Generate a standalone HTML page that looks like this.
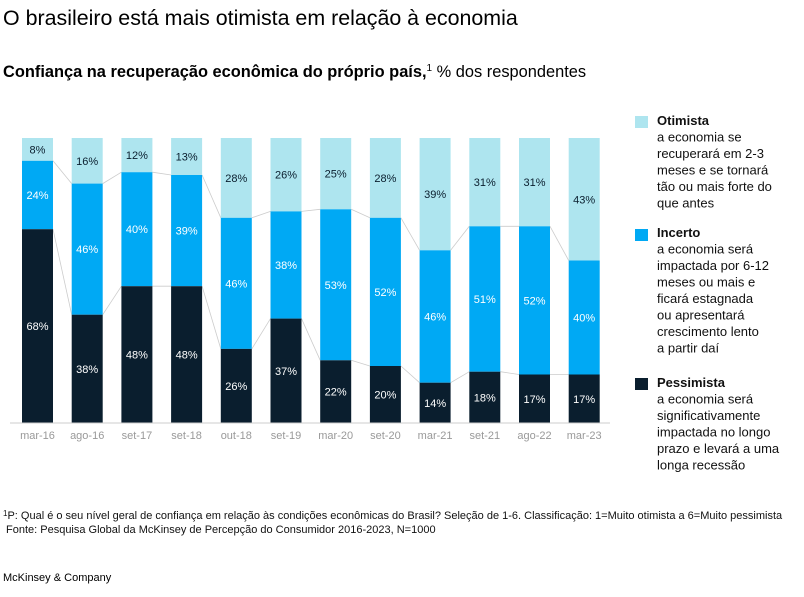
<!DOCTYPE html>
<html><head><meta charset="utf-8"><style>
body{margin:0;background:#fff;width:804px;height:592px;overflow:hidden;font-family:"Liberation Sans",sans-serif;}
</style></head><body>
<svg width="804" height="592" xmlns="http://www.w3.org/2000/svg" font-family="Liberation Sans, sans-serif">
<text x="3" y="25" font-size="21.4" fill="#000">O brasileiro está mais otimista em relação à economia</text>
<text x="3" y="77" font-size="16.4" fill="#000"><tspan font-weight="bold">Confiança na recuperação econômica do próprio país,</tspan><tspan font-size="10" dy="-6">1</tspan><tspan dy="6"> % dos respondentes</tspan></text>
<g stroke="#ccc" stroke-width="0.8" fill="none">
<path d="M53,229.2L71.7,314.7M53,160.8L71.7,183.6M102.7,314.7L121.4,286.2M102.7,183.6L121.4,172.2M152.4,286.2L171.1,286.2M152.4,172.2L171.1,175M202.1,286.2L220.8,348.9M202.1,175L220.8,217.8M251.8,348.9L270.5,318.6M251.8,217.8L270.5,211.4M301.5,318.6L320.2,360.3M301.5,211.4L320.2,209.3M351.2,360.3L369.9,366M351.2,209.3L369.9,217.8M400.9,366L419.6,382.7M400.9,217.8L419.6,250.3M450.6,382.7L469.3,371.7M450.6,250.3L469.3,226.3M500.3,371.7L519,374.5M500.3,226.3L519,226.3M550,374.5L568.7,374.5M550,226.3L568.7,260.5"/>
</g>
<g id="bars">
<rect x="22" y="138" width="31" height="22.8" fill="#aee5ef"/><rect x="22" y="160.8" width="31" height="68.4" fill="#00a9f4"/><rect x="22" y="229.2" width="31" height="193.8" fill="#0a1e2e"/>
<rect x="71.7" y="138" width="31" height="45.6" fill="#aee5ef"/><rect x="71.7" y="183.6" width="31" height="131.1" fill="#00a9f4"/><rect x="71.7" y="314.7" width="31" height="108.3" fill="#0a1e2e"/>
<rect x="121.4" y="138" width="31" height="34.2" fill="#aee5ef"/><rect x="121.4" y="172.2" width="31" height="114" fill="#00a9f4"/><rect x="121.4" y="286.2" width="31" height="136.8" fill="#0a1e2e"/>
<rect x="171.1" y="138" width="31" height="37" fill="#aee5ef"/><rect x="171.1" y="175" width="31" height="111.2" fill="#00a9f4"/><rect x="171.1" y="286.2" width="31" height="136.8" fill="#0a1e2e"/>
<rect x="220.8" y="138" width="31" height="79.8" fill="#aee5ef"/><rect x="220.8" y="217.8" width="31" height="131.1" fill="#00a9f4"/><rect x="220.8" y="348.9" width="31" height="74.1" fill="#0a1e2e"/>
<rect x="270.5" y="138" width="31" height="73.4" fill="#aee5ef"/><rect x="270.5" y="211.4" width="31" height="107.2" fill="#00a9f4"/><rect x="270.5" y="318.6" width="31" height="104.4" fill="#0a1e2e"/>
<rect x="320.2" y="138" width="31" height="71.3" fill="#aee5ef"/><rect x="320.2" y="209.3" width="31" height="151" fill="#00a9f4"/><rect x="320.2" y="360.3" width="31" height="62.7" fill="#0a1e2e"/>
<rect x="369.9" y="138" width="31" height="79.8" fill="#aee5ef"/><rect x="369.9" y="217.8" width="31" height="148.2" fill="#00a9f4"/><rect x="369.9" y="366" width="31" height="57" fill="#0a1e2e"/>
<rect x="419.6" y="138" width="31" height="112.3" fill="#aee5ef"/><rect x="419.6" y="250.3" width="31" height="132.4" fill="#00a9f4"/><rect x="419.6" y="382.7" width="31" height="40.3" fill="#0a1e2e"/>
<rect x="469.3" y="138" width="31" height="88.3" fill="#aee5ef"/><rect x="469.3" y="226.3" width="31" height="145.4" fill="#00a9f4"/><rect x="469.3" y="371.7" width="31" height="51.3" fill="#0a1e2e"/>
<rect x="519" y="138" width="31" height="88.3" fill="#aee5ef"/><rect x="519" y="226.3" width="31" height="148.2" fill="#00a9f4"/><rect x="519" y="374.5" width="31" height="48.5" fill="#0a1e2e"/>
<rect x="568.7" y="138" width="31" height="122.5" fill="#aee5ef"/><rect x="568.7" y="260.5" width="31" height="114" fill="#00a9f4"/><rect x="568.7" y="374.5" width="31" height="48.5" fill="#0a1e2e"/>
</g>
<line x1="10" y1="423" x2="610" y2="423" stroke="#ccc" stroke-width="1"/>
<g font-size="11" text-anchor="middle" fill="#0a1e2e">
<text x="37.5" y="153.4">8%</text><text x="87.2" y="164.8">16%</text><text x="136.9" y="159.1">12%</text><text x="186.6" y="160.5">13%</text><text x="236.3" y="181.9">28%</text><text x="286" y="178.7">26%</text><text x="335.7" y="177.6">25%</text><text x="385.4" y="181.9">28%</text><text x="435.1" y="198.2">39%</text><text x="484.8" y="186.2">31%</text><text x="534.5" y="186.2">31%</text><text x="584.2" y="203.3">43%</text>
</g>
<g font-size="11" text-anchor="middle" fill="#fff">
<text x="37.5" y="199">24%</text><text x="87.2" y="253.2">46%</text><text x="136.9" y="233.2">40%</text><text x="186.6" y="234.6">39%</text><text x="236.3" y="287.4">46%</text><text x="286" y="269">38%</text><text x="335.7" y="288.8">53%</text><text x="385.4" y="295.9">52%</text><text x="435.1" y="320.5">46%</text><text x="484.8" y="303">51%</text><text x="534.5" y="304.4">52%</text><text x="584.2" y="321.5">40%</text>
<text x="37.5" y="330.1">68%</text><text x="87.2" y="372.9">38%</text><text x="136.9" y="358.6">48%</text><text x="186.6" y="358.6">48%</text><text x="236.3" y="390">26%</text><text x="286" y="374.8">37%</text><text x="335.7" y="395.7">22%</text><text x="385.4" y="398.5">20%</text><text x="435.1" y="406.9">14%</text><text x="484.8" y="401.4">18%</text><text x="534.5" y="402.8">17%</text><text x="584.2" y="402.8">17%</text>
</g>
<g font-size="11" text-anchor="middle" fill="#999">
<text x="37.5" y="439">mar-16</text><text x="87.2" y="439">ago-16</text><text x="136.9" y="439">set-17</text><text x="186.6" y="439">set-18</text><text x="236.3" y="439">out-18</text><text x="286" y="439">set-19</text><text x="335.7" y="439">mar-20</text><text x="385.4" y="439">set-20</text><text x="435.1" y="439">mar-21</text><text x="484.8" y="439">set-21</text><text x="534.5" y="439">ago-22</text><text x="584.2" y="439">mar-23</text>
</g>
<g font-size="13" fill="#111">
<rect x="635" y="116" width="13" height="12" fill="#aee5ef"/>
<text x="657" y="125" font-weight="bold">Otimista</text>
<text x="657" y="141.5">a economia se</text><text x="657" y="158">recuperará em 2-3</text><text x="657" y="174.5">meses e se tornará</text><text x="657" y="191">tão ou mais forte do</text><text x="657" y="207.5">que antes</text>
<rect x="635" y="229" width="13" height="12" fill="#00a9f4"/>
<text x="657" y="237" font-weight="bold">Incerto</text>
<text x="657" y="253.5">a economia será</text><text x="657" y="270">impactada por 6-12</text><text x="657" y="286.5">meses ou mais e</text><text x="657" y="303">ficará estagnada</text><text x="657" y="319.5">ou apresentará</text><text x="657" y="336">crescimento lento</text><text x="657" y="352.5">a partir daí</text>
<rect x="635" y="378" width="13" height="12" fill="#0a1e2e"/>
<text x="657" y="387" font-weight="bold">Pessimista</text>
<text x="657" y="403.5">a economia será</text><text x="657" y="420">significativamente</text><text x="657" y="436.5">impactada no longo</text><text x="657" y="453">prazo e levará a uma</text><text x="657" y="469.5">longa recessão</text>
</g>
<g font-size="11" fill="#111">
<text x="3" y="519"><tspan font-size="8" dy="-3">1</tspan><tspan dy="3">P: Qual é o seu nível geral de confiança em relação às condições econômicas do Brasil? Seleção de 1-6. Classificação: 1=Muito otimista a 6=Muito pessimista</tspan></text>
<text x="6" y="533">Fonte: Pesquisa Global da McKinsey de Percepção do Consumidor 2016-2023, N=1000</text>
<text x="3" y="581" fill="#000">McKinsey &amp; Company</text>
</g>
</svg>
</body></html>
